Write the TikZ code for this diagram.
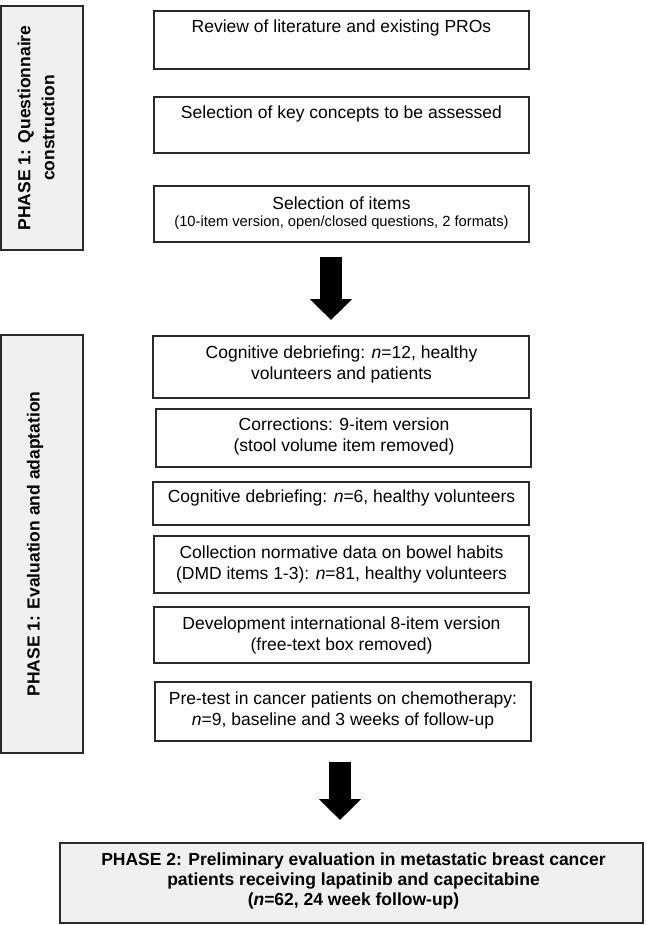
\documentclass[tikz,border=0pt]{standalone}
\usepackage{fontspec}
\setmainfont{Liberation Sans}
\usetikzlibrary{arrows.meta}
\definecolor{boxline}{HTML}{2A2A2A}
\definecolor{phasefill}{HTML}{F0F0F0}
\tikzset{
  stepbox/.style={draw=boxline, line width=1.5pt, inner sep=0pt, fill=white},
  phasebox/.style={draw=boxline, line width=2pt, inner sep=0pt, fill=phasefill},
  steptext/.style={align=center, inner sep=0pt, font=\fontsize{17.5}{21}\selectfont},
  smalltext/.style={align=center, inner sep=0pt, font=\fontsize{14.7}{18}\selectfont},
  phasetext/.style={align=center, inner sep=0pt, font=\fontsize{17.5}{24}\selectfont\bfseries},
  bigarrow/.style={line width=21.5pt, draw=black, -{Triangle[width=41pt,length=21pt]}}
}
\begin{document}
\begin{tikzpicture}[x=1pt,y=-1pt]
\useasboundingbox (0,0) rectangle (646,925);
% phase boxes
\node[phasebox, minimum width=82pt, minimum height=244pt] (p1a) at (42,128) {};
\node[phasetext, rotate=90] (p1at) at (36,128) {PHASE 1: Questionnaire\\construction};
\node[phasebox, minimum width=82pt, minimum height=418pt] (p1b) at (42,544) {};
\node[phasetext, rotate=90] (p1bt) at (35,544) {PHASE 1: Evaluation and adaptation};
\node[phasebox, minimum width=583pt, minimum height=80pt] (p2) at (351.5,883) {};
\node[phasetext, font=\fontsize{17.5}{20}\selectfont\bfseries] (p2t) at (353.5,881) {PHASE 2: Preliminary evaluation in metastatic breast cancer\\patients receiving lapatinib and capecitabine\\(\textit{n}=62, 24 week follow-up)};
% step boxes
\node[stepbox, minimum width=375pt, minimum height=58pt] (b1) at (341.5,40) {};
\node[steptext] (b1t) at (341.5,28) {Review of literature and existing PROs};
\node[stepbox, minimum width=375pt, minimum height=56pt] (b2) at (341.5,125) {};
\node[steptext] (b2t) at (341.5,114) {Selection of key concepts to be assessed};
\node[stepbox, minimum width=375pt, minimum height=56pt] (b3) at (341.5,214) {};
\node[steptext] (b3t) at (341.5,203) {Selection of items};
\node[smalltext] (b3s) at (341.5,223) {(10-item version, open/closed questions, 2 formats)};
\node[stepbox, minimum width=376pt, minimum height=62pt] (b4) at (341,367) {};
\node[steptext] (b4t) at (341.5,364) {Cognitive debriefing: \textit{n}=12, healthy\\volunteers and patients};
\node[stepbox, minimum width=375pt, minimum height=58pt] (b5) at (343.5,438) {};
\node[steptext] (b5t) at (344,436.5) {Corrections: 9-item version\\(stool volume item removed)};
\node[stepbox, minimum width=376pt, minimum height=43pt] (b6) at (341,503.5) {};
\node[steptext] (b6t) at (341.5,498) {Cognitive debriefing: \textit{n}=6, healthy volunteers};
\node[stepbox, minimum width=375pt, minimum height=57pt] (b7) at (341.5,564.5) {};
\node[steptext] (b7t) at (341.5,564) {Collection normative data on bowel habits\\(DMD items 1-3): \textit{n}=81, healthy volunteers};
\node[stepbox, minimum width=375pt, minimum height=56pt] (b8) at (341.5,635) {};
\node[steptext] (b8t) at (341.5,635) {Development international 8-item version\\(free-text box removed)};
\node[stepbox, minimum width=376pt, minimum height=59pt] (b9) at (343,711.5) {};
\node[steptext] (b9t) at (343,710.5) {Pre-test in cancer patients on chemotherapy:\\\textit{n}=9, baseline and 3 weeks of follow-up};
% arrows
\coordinate (a1s) at (331,257);
\coordinate (a1e) at (331,320);
\draw[bigarrow] (a1s) -- (a1e);
\coordinate (a2s) at (340,762);
\coordinate (a2e) at (340,820);
\draw[bigarrow] (a2s) -- (a2e);
\end{tikzpicture}
\end{document}
